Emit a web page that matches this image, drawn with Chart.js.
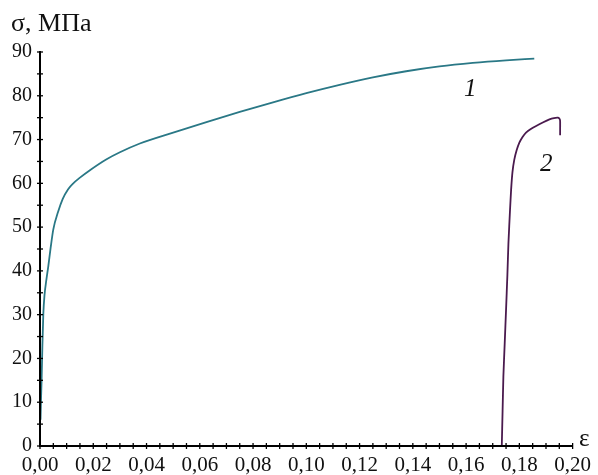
<!DOCTYPE html>
<html><head><meta charset="utf-8">
<script src="https://cdn.jsdelivr.net/npm/chart.js@4.4.0/dist/chart.umd.min.js"></script>
<style>html,body{margin:0;padding:0;background:#fff}#wrap{width:598px;height:475px;position:relative}</style>
</head><body><div id="wrap"><canvas id="c" width="598" height="475"></canvas></div>
<script>
// Curve 1: strain / stress
const eps1 = [0.0002,0.0004,0.0006,0.0009,0.00125,0.0017,0.0024,0.0031,0.004,0.005,0.0068,0.0085,0.0105,0.0125,0.015,0.01875,0.025,0.03,0.0375,0.05,0.0625,0.075,0.0875,0.1,0.1125,0.125,0.1375,0.15,0.1625,0.175,0.1856];
const sig1 = [6,11,15,23,30.2,34.5,38,41,45.3,49.5,53.5,56.4,58.6,60.0,61.3,63.0,65.5,67.1,69.1,71.6,74.0,76.3,78.5,80.6,82.5,84.2,85.6,86.7,87.5,88.1,88.5];
// Curve 2
const eps2 = [0.1734,0.1737,0.1740,0.1745,0.1750,0.1755,0.1759,0.1765,0.1769,0.1774,0.1781,0.1790,0.1800,0.1812,0.1825,0.1843,0.1863,0.1888,0.1913,0.1930,0.1944,0.1950,0.1953,0.1953];
const sig2 = [0,8,15.9,23.5,31.1,39,46.4,54,58.5,62.5,65.4,67.6,69.3,70.6,71.6,72.4,73.1,73.9,74.6,74.9,75,74.8,74.3,71];
// Axis ticks
const xMajor = [0,0.02,0.04,0.06,0.08,0.10,0.12,0.14,0.16,0.18,0.20];
const yMajor = [0,10,20,30,40,50,60,70,80,90];
const curveLabels = ['1','2'];
const yTitle = 'σ, МПа';
const xTitle = 'ε';

const toPts = (xs, ys) => xs.map((x,i)=>({x:x, y:ys[i]}));
const isMajor = (v, arr) => arr.some(m => Math.abs(m - v) < 1e-9);
const FONT = '"Liberation Serif", "Times New Roman", serif';

const crossTicks = {
  id:'crossTicks',
  afterDraw(chart){
    const ctx = chart.ctx, xs = chart.scales.x, ys = chart.scales.y;
    ctx.save();
    ctx.strokeStyle = '#000';
    ctx.lineWidth = 2;
    ctx.beginPath();
    ctx.moveTo(xs.left, ys.top - 1);
    ctx.lineTo(xs.left, ys.bottom);
    ctx.lineTo(xs.right, ys.bottom);
    ctx.stroke();
    ctx.lineWidth = 1.3;
    xs.ticks.forEach(t => {
      const p = xs.getPixelForValue(t.value);
      ctx.beginPath(); ctx.moveTo(p, ys.bottom - 3); ctx.lineTo(p, ys.bottom + 3); ctx.stroke();
    });
    ys.ticks.forEach(t => {
      const p = ys.getPixelForValue(t.value);
      ctx.beginPath(); ctx.moveTo(xs.left - 3, p); ctx.lineTo(xs.left + 3, p); ctx.stroke();
    });
    // titles
    ctx.fillStyle = '#111';
    ctx.font = '26px ' + FONT;
    ctx.textBaseline = 'alphabetic';
    ctx.textAlign = 'left';
    ctx.fillText(yTitle, 11, 31);
    ctx.font = '25px ' + FONT;
    ctx.fillText(xTitle, 579, 446);
    // curve labels
    ctx.font = 'italic 25px ' + FONT;
    ctx.textAlign = 'center';
    ctx.fillText(curveLabels[0], xs.getPixelForValue(0.1616), ys.getPixelForValue(80));
    ctx.fillText(curveLabels[1], xs.getPixelForValue(0.1901), ys.getPixelForValue(62.8));
    ctx.restore();
  }
};

new Chart(document.getElementById('c'), {
  type:'scatter',
  data:{datasets:[
    {data:toPts(eps1,sig1), showLine:true, borderColor:'#2a7886', borderWidth:1.8, pointRadius:0, cubicInterpolationMode:'monotone'},
    {data:toPts(eps2,sig2), showLine:true, borderColor:'#4a1a4e', borderWidth:1.8, pointRadius:0, tension:0.15}
  ]},
  options:{
    responsive:false, animation:false,
    layout:{padding:{top:52, right:25, left:0, bottom:0}},
    plugins:{legend:{display:false}, tooltip:{enabled:false}},
    scales:{
      x:{type:'linear', min:0, max:0.2,
        afterFit(s){ s.height = 29; },
        border:{display:false},
        grid:{display:false, drawTicks:false},
        ticks:{stepSize:0.005, autoSkip:false, maxRotation:0, padding:7, color:'#111',
          font:{family:FONT, size:21},
          callback(v){ return isMajor(v, xMajor) ? v.toFixed(2).replace('.',',') : ''; }}
      },
      y:{type:'linear', min:0, max:90,
        afterFit(s){ s.width = 40; },
        border:{display:false},
        grid:{display:false, drawTicks:false},
        ticks:{stepSize:5, autoSkip:false, padding:8, color:'#111',
          font:{family:FONT, size:20},
          callback(v){ return isMajor(v, yMajor) ? String(v) : ''; }}
      }
    }
  },
  plugins:[crossTicks]
});
</script></body></html>
